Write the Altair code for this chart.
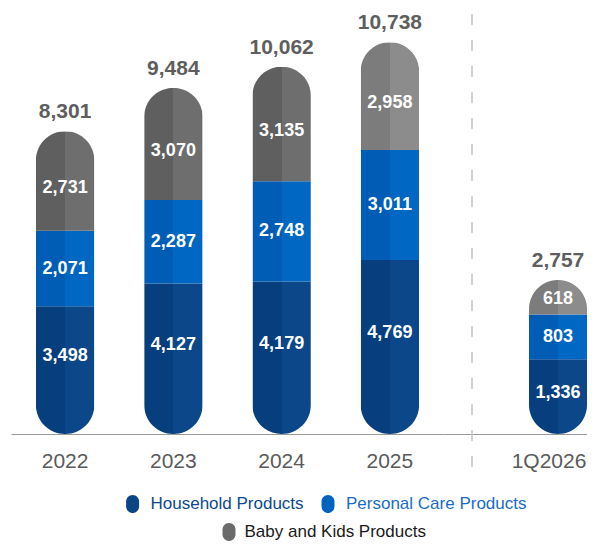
import altair as alt
import pandas as pd

# ---- data ----
years = ["2022", "2023", "2024", "2025"]
household = [3498, 4127, 4179, 4769]
personal_care = [2071, 2287, 2748, 3011]
baby_kids = [2731, 3070, 3135, 2958]
totals = [8301, 9484, 10062, 10738]

quarter = ["1Q2026"]
q_household = [1336]
q_personal_care = [803]
q_baby_kids = [618]
q_totals = [2757]

series_names = ["Household Products", "Personal Care Products", "Baby and Kids Products"]

FONT = "Liberation Sans"
PLOT_H = 424


def long_df(periods, hh, pc, bk):
    rows = []
    for i, p in enumerate(periods):
        for k, (name, vals) in enumerate(zip(series_names, [hh, pc, bk])):
            rows.append({"period": p, "series": name, "ord": k, "value": vals[i]})
    return pd.DataFrame(rows)


def grad(left, right):
    return {"gradient": "linear", "x1": 0, "y1": 0, "x2": 1, "y2": 0,
            "stops": [{"offset": 0, "color": left}, {"offset": 0.5, "color": left},
                      {"offset": 0.5, "color": right}, {"offset": 1, "color": right}]}


HH = grad("#073f7e", "#0b4789")
PC = grad("#005db6", "#0067c3")
BK_DARK = grad("#5f5f5f", "#6e6e6e")
BK_LIGHT = grad("#7c7c7c", "#8c8c8c")

color_enc = alt.ColorValue(
    value=BK_DARK,
    condition=[
        {"test": "datum.series === 'Household Products'", "value": HH},
        {"test": "datum.series === 'Personal Care Products'", "value": PC},
        {"test": "datum.period === '2025' || datum.period === '1Q2026'", "value": BK_LIGHT},
    ],
)


def axis(label_offset=0):
    return alt.Axis(labelAngle=0, labelFontSize=21, labelColor="#5a5a5a", labelFont=FONT,
                    labelPadding=16, ticks=False, tickSize=0, domainColor="#9a9a9a",
                    domainWidth=1, grid=False, title=None, labelOffset=label_offset)


def panel(periods, hh, pc, bk, tots, ymax, xscale, width, dys, label_offset=0, extra=()):
    df = long_df(periods, hh, pc, bk)
    tdf = pd.DataFrame({"period": periods, "total": tots})
    x = alt.X("period:N", sort=periods, title=None, scale=xscale, axis=axis(label_offset))
    yscale = alt.Scale(domain=[0, ymax], nice=False, zero=True)

    bars = alt.Chart(df).mark_bar(cornerRadius=29).encode(
        x=x,
        y=alt.Y("value:Q", stack="zero", scale=yscale, axis=None),
        detail="series:N",
        order=alt.Order("ord:Q", sort="ascending"),
        color=color_enc,
    )

    base = alt.Chart(df).transform_stack(
        stack="value", groupby=["period"], as_=["v0", "v1"],
        sort=[alt.SortField("ord", order="ascending")],
    ).transform_calculate(mid="(datum.v0 + datum.v1) / 2")

    layers = [bars]
    for name, dy in zip(series_names, dys):
        layers.append(
            base.transform_filter(alt.datum.series == name).mark_text(
                font=FONT, fontSize=18, fontWeight="bold", color="white",
                baseline="middle", align="center", dy=dy,
            ).encode(
                x=x,
                y=alt.Y("mid:Q", scale=yscale, axis=None),
                text=alt.Text("value:Q", format=",d"),
            )
        )

    layers.append(
        alt.Chart(tdf).mark_text(
            font=FONT, fontSize=21, fontWeight="bold", color="#5e5e5e",
            baseline="alphabetic", align="center", dy=-13,
        ).encode(
            x=x,
            y=alt.Y("total:Q", scale=yscale, axis=None),
            text=alt.Text("total:Q", format=",d"),
        )
    )
    layers.extend(extra)
    return alt.layer(*layers).properties(width=width, height=PLOT_H)


# ---- manual legend (drawn below the left panel) ----
OVAL = "M -0.72 -0.28 A 0.72 0.72 0 0 1 0.72 -0.28 L 0.72 0.28 A 0.72 0.72 0 0 1 -0.72 0.28 Z"
legend_items = [
    (series_names[0], "#0b4584", "#0b4a8e", 121.6, 139.5, 494),
    (series_names[1], "#0063be", "#1a6cc4", 317, 335, 494),
    (series_names[2], "#6b6b6b", "#1a1a1a", 218, 233.5, 522),
]
leg_layers = []
for label, mcol, tcol, mx, tx, yy in legend_items:
    d = pd.DataFrame({"label": [label]})
    leg_layers.append(
        alt.Chart(d).mark_point(shape=OVAL, size=324, filled=True, opacity=1, color=mcol)
        .encode(x=alt.value(mx), y=alt.value(yy))
    )
    leg_layers.append(
        alt.Chart(d).mark_text(font=FONT, fontSize=17, color=tcol, align="left", baseline="middle")
        .encode(text="label:N", x=alt.value(tx), y=alt.value(yy))
    )

left = panel(years, household, personal_care, baby_kids, totals, 11620,
             alt.Scale(paddingInner=0.46, paddingOuter=0.23), 433, [-14, 0, 7],
             extra=leg_layers)

divider = alt.Chart(pd.DataFrame({"d": [0]})).mark_rule(
    strokeDash=[11, 15], color="#c4c4c4", strokeWidth=1.5
).encode(x=alt.value(28), y=alt.value(4), y2=alt.value(457))

right = panel(quarter, q_household, q_personal_care, q_baby_kids, q_totals, 7590,
              alt.Scale(paddingInner=0, paddingOuter=0.7328, align=1), 143,
              [-4, 0, 2], label_offset=-9, extra=[divider])

chart = alt.hconcat(left, right, spacing=0, bounds="flush").properties(
    padding={"left": 3, "top": 2, "right": 0, "bottom": 0},
    background="white",
).configure(font=FONT, view=alt.ViewConfig(stroke=None))

chart.save("out.html", embed_options={"renderer": "svg", "actions": False})
